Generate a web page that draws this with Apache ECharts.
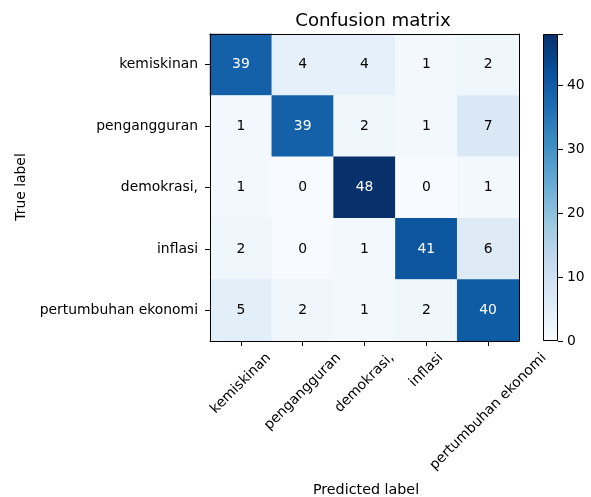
<!DOCTYPE html>
<html>
<head>
<meta charset="utf-8">
<script src="https://cdn.jsdelivr.net/npm/echarts@6/dist/echarts.min.js"></script>
<style>html,body{margin:0;padding:0;background:#fff}#c{width:591px;height:497px}</style>
</head>
<body>
<div id="c"></div>
<script>
const classes = ['kemiskinan', 'pengangguran', 'demokrasi,', 'inflasi', 'pertumbuhan ekonomi'];
const rowKemiskinan = [39, 4, 4, 1, 2];
const rowPengangguran = [1, 39, 2, 1, 7];
const rowDemokrasi = [1, 0, 48, 0, 1];
const rowInflasi = [2, 0, 1, 41, 6];
const rowPertumbuhan = [5, 2, 1, 2, 40];
const colorbarTicks = [0, 10, 20, 30, 40];
const titleText = 'Confusion matrix';
const xName = 'Predicted label';
const yName = 'True label';

const matrix = [rowKemiskinan, rowPengangguran, rowDemokrasi, rowInflasi, rowPertumbuhan];
const vmax = Math.max(...matrix.map(r => Math.max(...r)));
const thresh = vmax / 2;
const blues = ['#f7fbff','#deebf7','#c6dbef','#9ecae1','#6baed6','#4292c6','#2171b5','#08519c','#08306b'];

const FONT = 'DejaVu Sans';
const FS = 13.9;

const cells = [];
matrix.forEach((row, i) => row.forEach((v, j) => {
  cells.push({ value: [j, i, v], label: { color: v > thresh ? '#fff' : '#000' } });
}));

// matplotlib-like centered rotated tick labels
const cv = document.createElement('canvas').getContext('2d');
cv.font = FS + 'px "' + FONT + '"';
const plotBottom = 341, marginX = 6, bboxTop = 350, textH = 16;
const rich = {};
classes.forEach((c, i) => {
  const L = cv.measureText(c).width;
  const d = bboxTop + 0.3536 * (L + textH) - (plotBottom + marginX);
  const p = Math.max(0, 1.4142 * d);
  rich['r' + i] = { padding: [p, p, 0, 0], fontFamily: FONT, fontSize: FS, color: '#000' };
});

const chart = echarts.init(document.getElementById('c'), null, { renderer: 'canvas' });
const grad = new echarts.graphic.LinearGradient(0, 1, 0, 0,
  blues.map((c, k) => ({ offset: k / (blues.length - 1), color: c })));

chart.setOption({
  animation: false,
  backgroundColor: '#fff',
  textStyle: { fontFamily: FONT },
  title: {
    text: titleText, left: 368, top: 7, textAlign: 'center',
    textStyle: { fontFamily: FONT, fontSize: 18.2, fontWeight: 'normal', color: '#000' }
  },
  grid: [
    { left: 210, top: 34, width: 309, height: 307 },
    { left: 543, top: 34, width: 15, height: 307 }
  ],
  xAxis: [
    { type: 'category', gridIndex: 0, data: classes, position: 'bottom', z: 10,
      axisLine: { show: true, lineStyle: { color: '#000', width: 1 } },
      axisTick: { show: true, alignWithLabel: true, length: 5, lineStyle: { color: '#000', width: 1 } },
      axisLabel: { interval: 0, rotate: 45, align: 'center', verticalAlign: 'middle', margin: marginX,
        fontFamily: FONT, fontSize: FS, color: '#000',
        formatter: (v, i) => '{r' + i + '|' + v + '}', rich: rich },
      splitLine: { show: false } },
    { type: 'category', gridIndex: 0, data: classes, position: 'top', z: 10,
      axisLine: { show: true, lineStyle: { color: '#000', width: 1 } },
      axisTick: { show: false }, axisLabel: { show: false }, splitLine: { show: false } },
    { type: 'category', gridIndex: 1, data: ['cb'], show: false }
  ],
  yAxis: [
    { type: 'category', gridIndex: 0, data: classes, inverse: true, position: 'left', z: 10,
      axisLine: { show: true, lineStyle: { color: '#000', width: 1 } },
      axisTick: { show: true, alignWithLabel: true, length: 5, lineStyle: { color: '#000', width: 1 } },
      axisLabel: { interval: 0, margin: 12, fontFamily: FONT, fontSize: FS, color: '#000' },
      splitLine: { show: false } },
    { type: 'category', gridIndex: 0, data: classes, inverse: true, position: 'right', z: 10,
      axisLine: { show: true, lineStyle: { color: '#000', width: 1 } },
      axisTick: { show: false }, axisLabel: { show: false }, splitLine: { show: false } },
    { type: 'value', gridIndex: 1, min: 0, max: vmax, interval: 10, position: 'right', z: 10,
      axisLine: { show: false },
      axisTick: { show: true, length: 5, lineStyle: { color: '#000', width: 1 } },
      axisLabel: { margin: 9, fontFamily: FONT, fontSize: FS, color: '#000',
        formatter: v => colorbarTicks.includes(v) ? String(v) : '' },
      splitLine: { show: false } }
  ],
  visualMap: {
    show: false, type: 'continuous', min: 0, max: vmax, seriesIndex: 0, dimension: 2,
    inRange: { color: blues }
  },
  series: [
    { type: 'heatmap', xAxisIndex: 0, yAxisIndex: 0, data: cells,
      label: { show: true, fontFamily: FONT, fontSize: FS, formatter: p => String(p.value[2]) },
      itemStyle: { borderWidth: 0 }, emphasis: { disabled: true } },
    { type: 'bar', xAxisIndex: 2, yAxisIndex: 2, data: [vmax], barWidth: '100%', z: 5,
      itemStyle: { color: grad, borderColor: '#000', borderWidth: 1 }, silent: true }
  ],
  graphic: [
    { type: 'text', x: 366, y: 490,
      style: { text: xName, fontFamily: FONT, fontSize: 14.3, fill: '#000', align: 'center', verticalAlign: 'middle' } },
    { type: 'text', x: 21, y: 187, rotation: Math.PI / 2,
      style: { text: yName, fontFamily: FONT, fontSize: FS, fill: '#000', align: 'center', verticalAlign: 'middle' } }
  ]
});
</script>
</body>
</html>
